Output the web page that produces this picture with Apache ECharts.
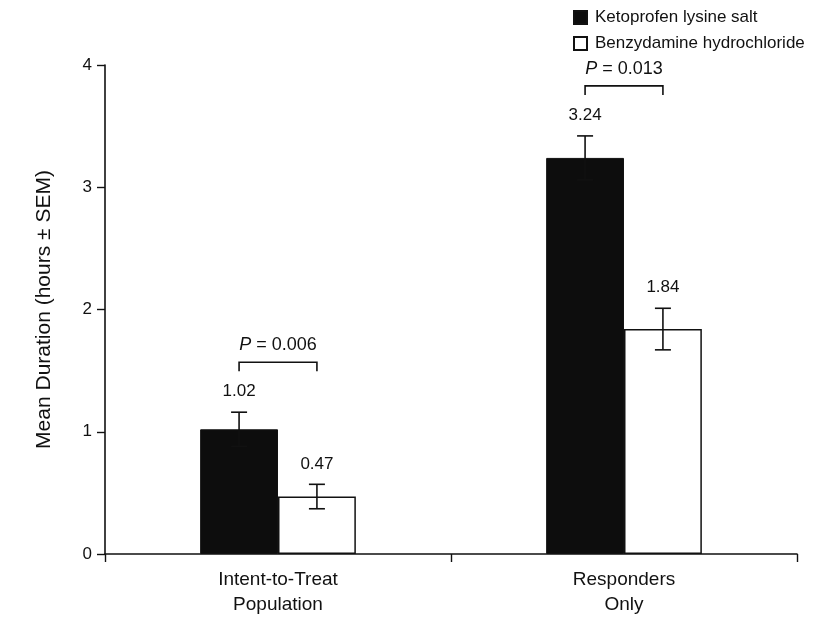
<!DOCTYPE html>
<html>
<head>
<meta charset="utf-8">
<script src="https://cdn.jsdelivr.net/npm/echarts@6/dist/echarts.min.js"></script>
<style>
  html, body { margin: 0; padding: 0; background: #fff; }
  #chart { width: 827px; height: 617px; }
</style>
</head>
<body>
<div id="chart"></div>
<script>
// Mean duration of effect, hours, with standard error of the mean
const categories = ['Intent-to-Treat\nPopulation', 'Responders\nOnly'];
const seriesNames = ['Ketoprofen lysine salt', 'Benzydamine hydrochloride'];
const ketoprofenMean = [1.02, 3.24];
const ketoprofenSem = [0.14, 0.18];
const benzydamineMean = [0.47, 1.84];
const benzydamineSem = [0.10, 0.17];
const pValueLabels = ['0.006', '0.013'];
const yTicks = [0, 1, 2, 3, 4];

const FONT = '"Liberation Sans", Arial, Helvetica, sans-serif';
const INK = '#111';
const BAR_FRAC = 0.225;                       // share of the category band per bar
const seriesOffset = [-BAR_FRAC / 2, BAR_FRAC / 2];

const chart = echarts.init(document.getElementById('chart'), null, { renderer: 'canvas' });

function errorData(means, sems, s) {
  return means.map((m, i) => [i, m, sems[i], s]);
}

// Whisker with caps plus the value printed above it
function renderError(params, api) {
  const cat = api.value(0), mean = api.value(1), sem = api.value(2), s = api.value(3);
  const band = api.size([1, 0])[0];
  const x = api.coord([cat, mean])[0] + seriesOffset[s] * band;
  const top = api.coord([cat, mean + sem])[1];
  const bot = api.coord([cat, mean - sem])[1];
  const cap = 8;
  const style = { stroke: INK, lineWidth: 1.6 };
  return {
    type: 'group',
    children: [
      { type: 'line', shape: { x1: x, y1: top, x2: x, y2: bot }, style },
      { type: 'line', shape: { x1: x - cap, y1: top, x2: x + cap, y2: top }, style },
      { type: 'line', shape: { x1: x - cap, y1: bot, x2: x + cap, y2: bot }, style },
      {
        type: 'text', x: x, y: top - 12,
        style: { text: mean.toFixed(2), fill: INK, fontSize: 17, fontFamily: FONT, align: 'center', verticalAlign: 'bottom' }
      }
    ]
  };
}

// Significance bracket joining the two bars of a group
function renderBracket(params, api) {
  const cat = api.value(0);
  const band = api.size([1, 0])[0];
  const cx = api.coord([cat, 0])[0];
  const xa = cx + seriesOffset[0] * band;
  const xb = cx + seriesOffset[1] * band;
  const capTop = Math.min(
    api.coord([cat, ketoprofenMean[cat] + ketoprofenSem[cat]])[1],
    api.coord([cat, benzydamineMean[cat] + benzydamineSem[cat]])[1]
  );
  const y = capTop - 50;
  const drop = 9;
  const style = { stroke: INK, lineWidth: 1.6, fill: null };
  return {
    type: 'group',
    children: [
      { type: 'polyline', shape: { points: [[xa, y + drop], [xa, y], [xb, y], [xb, y + drop]] }, style },
      {
        type: 'text', x: (xa + xb) / 2, y: y - 8,
        style: {
          text: '{i|P} = ' + pValueLabels[cat],
          rich: { i: { fontStyle: 'italic', fontSize: 18, fontFamily: FONT, fill: INK } },
          fill: INK, fontSize: 18, fontFamily: FONT, align: 'center', verticalAlign: 'bottom'
        }
      }
    ]
  };
}

const option = {
  animation: false,
  backgroundColor: '#fff',
  textStyle: { fontFamily: FONT, color: INK },
  grid: { left: 105, right: 30, top: 65, bottom: 62 },
  legend: {
    data: seriesNames,
    orient: 'vertical',
    left: 568,
    top: 4,
    itemWidth: 13,
    itemHeight: 13,
    itemGap: 9,
    icon: 'rect',
    textStyle: { fontSize: 17, fontFamily: FONT, color: INK, padding: [0, 0, 0, 3] }
  },
  xAxis: {
    type: 'category',
    data: categories,
    axisLine: { lineStyle: { color: INK, width: 1.6 } },
    axisTick: { show: true, length: 8, lineStyle: { color: INK, width: 1.4 } },
    axisLabel: { fontSize: 19, lineHeight: 25, margin: 13, color: INK, fontFamily: FONT },
    splitLine: { show: false }
  },
  yAxis: {
    type: 'value',
    min: yTicks[0],
    max: yTicks[yTicks.length - 1],
    interval: 1,
    name: 'Mean Duration (hours ± SEM)',
    nameLocation: 'middle',
    nameGap: 50,
    nameTextStyle: { fontSize: 21, color: INK, fontFamily: FONT },
    axisLine: { show: true, lineStyle: { color: INK, width: 1.6 } },
    axisTick: { show: true, length: 8, lineStyle: { color: INK, width: 1.4 } },
    axisLabel: { fontSize: 17, margin: 13, color: INK, fontFamily: FONT },
    splitLine: { show: false }
  },
  series: [
    {
      name: seriesNames[0],
      type: 'bar',
      data: ketoprofenMean,
      barWidth: (BAR_FRAC * 100) + '%',
      barGap: '0%',
      itemStyle: { color: '#0d0d0d', borderColor: INK, borderWidth: 1 }
    },
    {
      name: seriesNames[1],
      type: 'bar',
      data: benzydamineMean,
      barWidth: (BAR_FRAC * 100) + '%',
      barGap: '0%',
      itemStyle: { color: '#ffffff', borderColor: INK, borderWidth: 1.5 }
    },
    {
      type: 'custom',
      name: 'ketoprofen-sem',
      renderItem: renderError,
      data: errorData(ketoprofenMean, ketoprofenSem, 0),
      encode: { x: 0, y: 1 },
      z: 5,
      silent: true
    },
    {
      type: 'custom',
      name: 'benzydamine-sem',
      renderItem: renderError,
      data: errorData(benzydamineMean, benzydamineSem, 1),
      encode: { x: 0, y: 1 },
      z: 5,
      silent: true
    },
    {
      type: 'custom',
      name: 'p-brackets',
      renderItem: renderBracket,
      data: categories.map((c, i) => [i, 0]),
      encode: { x: 0, y: 1 },
      z: 5,
      silent: true
    }
  ]
};

chart.setOption(option);
</script>
</body>
</html>
